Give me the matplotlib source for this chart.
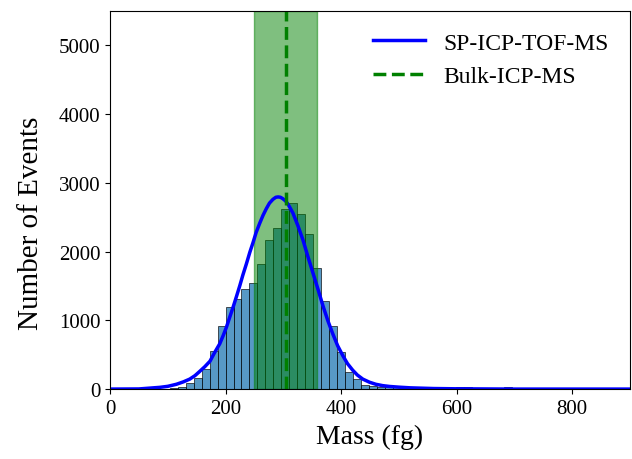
import matplotlib
matplotlib.use("Agg")
import matplotlib.pyplot as plt
import numpy as np

plt.rcParams['font.family'] = ['Liberation Serif', 'DejaVu Serif']
plt.rcParams['mathtext.fontset'] = 'stix'

# Histogram: bin edges (fg) and counts per bin
bin_start = 103.6
bin_width = 13.77
counts = [10, 33, 83, 160, 291, 548, 920, 1187, 1308, 1453,
          1550, 1817, 2166, 2350, 2626, 2713, 2553, 2253, 1768, 1283,
          911, 533, 242, 145, 63,
          40, 30, 25, 30, 35, 30, 30, 25, 25, 20,
          20, 25, 30, 20, 15, 10, 15, 25, 20, 10, 8]

# Fitted curve
fit_x = [0, 50, 86, 100, 115, 127, 138, 147, 155, 164, 173, 181, 190, 196,
         201.5, 207, 213, 219, 224.5, 230, 236, 242, 247.5, 253, 259, 265,
         270.6, 276, 282, 287, 291, 295, 299, 304, 308, 312, 316.6, 325,
         333.9, 342, 351, 360, 368.4, 377, 385.7, 394, 403, 411, 420, 428,
         437.5, 449, 460, 472, 484, 500, 520, 560, 600, 700, 900]
fit_y = [0, 2, 25, 40, 70, 105, 145, 195, 255, 325, 405, 530, 660, 780,
         900, 1040, 1190, 1350, 1500, 1660, 1820, 1990, 2130, 2280, 2410, 2530,
         2625, 2705, 2760, 2790, 2795, 2790, 2770, 2735, 2690, 2630, 2560, 2380,
         2170, 1940, 1695, 1450, 1215, 995, 800, 630, 485, 370, 275, 205,
         145, 100, 70, 50, 38, 28, 18, 8, 4, 0, 0]

bulk_mean = 304
bulk_low = 250
bulk_high = 358

edges = bin_start + bin_width * np.arange(len(counts) + 1)
centers = (edges[:-1] + edges[1:]) / 2

fig = plt.figure(figsize=(6.32, 4.6), dpi=100)
ax = fig.add_axes([0.174, 0.152, 0.823, 0.822])

ax.hist(centers, bins=edges, weights=counts, color='#1f77b4', alpha=0.75,
        edgecolor='black', linewidth=0.6)
ax.axvspan(bulk_low, bulk_high, color='green', alpha=0.5)
ax.plot(fit_x, fit_y, color='blue', lw=2.5, label='SP-ICP-TOF-MS')
ax.axvline(bulk_mean, color='green', ls='--', lw=2.5, label='Bulk-ICP-MS')

ax.set_xlim(0, 900)
ax.set_ylim(0, 5500)
ax.set_xticks([0, 200, 400, 600, 800])
ax.set_yticks([0, 1000, 2000, 3000, 4000, 5000])
ax.tick_params(labelsize=15)
ax.set_xlabel('Mass (fg)', fontsize=20)
ax.set_ylabel('Number of Events', fontsize=21)
ax.yaxis.set_label_coords(-0.127, 0.44)
ax.legend(loc='upper right', frameon=False, fontsize=17, handlelength=2.2)

fig.savefig('out.png', dpi=100)
